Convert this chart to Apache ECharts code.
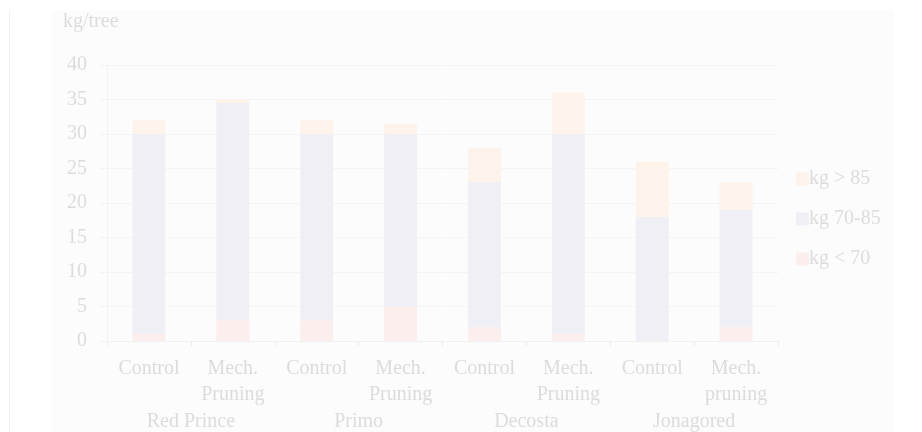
<!DOCTYPE html>
<html>
<head>
<meta charset="utf-8">
<script src="https://cdn.jsdelivr.net/npm/echarts@6/dist/echarts.min.js"></script>
<style>html,body{margin:0;padding:0;background:#fff}#c{width:922px;height:432px}</style>
</head>
<body>
<div id="c"></div>
<script>
const categories = ['Control', 'Mech.\nPruning', 'Control', 'Mech.\nPruning', 'Control', 'Mech.\nPruning', 'Control', 'Mech.\npruning'];
const groups = ['Red Prince', 'Primo', 'Decosta', 'Jonagored'];
const seriesNames = ['kg < 70', 'kg 70-85', 'kg > 85'];
const below70 = [1, 3, 3, 5, 2, 1, 0, 2];
const mid70to85 = [29, 31.5, 27, 25, 21, 29, 18, 17];
const above85 = [2, 0.5, 2, 1.5, 5, 6, 8, 4];
const yTicks = [0, 5, 10, 15, 20, 25, 30, 35, 40];

const font = 'Liberation Serif';
const txt = '#dcdcdc';
const colors = ['#fbeeed', '#f1eff6', '#fdf3ea'];

const chart = echarts.init(document.getElementById('c'), null, {renderer: 'canvas'});
const values = [below70, mid70to85, above85];
chart.setOption({
  animation: false,
  backgroundColor: '#ffffff',
  textStyle: {fontFamily: font},
  graphic: [
    {type: 'rect', z: -10, shape: {x: 52, y: 10, width: 842, height: 422}, style: {fill: '#fcfcfc'}},
    {type: 'rect', z: -10, shape: {x: 9, y: 10, width: 1, height: 422}, style: {fill: '#f2f2f2'}},
    {type: 'text', left: 63, top: 12, style: {text: 'kg/tree', font: '20px "Liberation Serif"', fill: txt}}
  ],
  grid: {left: 107, right: 144, top: 65, bottom: 89, containLabel: false},
  legend: {
    orient: 'vertical', left: 791, top: 164, itemWidth: 13, itemHeight: 13, itemGap: 20,
    icon: 'rect',
    data: ['kg > 85', 'kg 70-85', 'kg < 70'],
    textStyle: {fontFamily: font, fontSize: 20, color: txt, padding: [0, 0, 0, -5]}
  },
  xAxis: [
    {
      type: 'category', data: categories,
      axisLine: {lineStyle: {color: '#f0f0f0'}},
      axisTick: {show: true, length: 5, lineStyle: {color: '#ececec'}},
      axisLabel: {fontFamily: font, fontSize: 20, color: txt, lineHeight: 26, margin: 15, interval: 0}
    },
    {
      type: 'category', data: groups, position: 'bottom',
      axisLine: {show: false}, axisTick: {show: false},
      axisLabel: {fontFamily: font, fontSize: 20, color: txt, margin: 71, interval: 0}
    }
  ],
  yAxis: {
    type: 'value', min: yTicks[0], max: yTicks[yTicks.length - 1], interval: 5,
    axisLine: {show: true, lineStyle: {color: '#f3f3f3'}},
    axisTick: {show: true, length: 7, lineStyle: {color: '#f3f3f3'}},
    splitLine: {lineStyle: {color: '#f4f4f4', width: 1}},
    axisLabel: {fontFamily: font, fontSize: 20, color: txt, margin: 20}
  },
  series: seriesNames.map((n, i) => ({
    name: n, type: 'bar', stack: 'total', barWidth: 33,
    itemStyle: {color: colors[i]},
    data: values[i]
  }))
});
</script>
</body>
</html>
